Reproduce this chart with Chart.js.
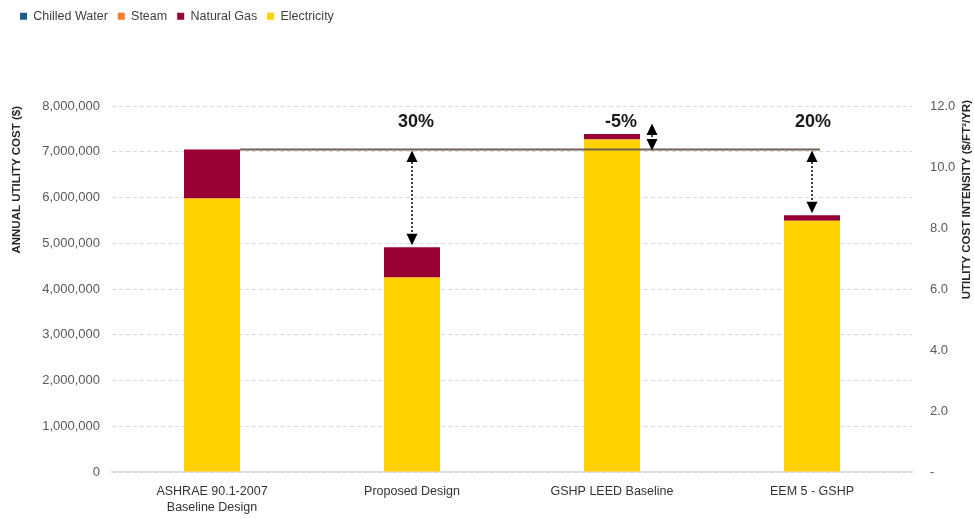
<!DOCTYPE html>
<html>
<head>
<meta charset="utf-8">
<title>Annual Utility Cost</title>
<script src="https://cdn.jsdelivr.net/npm/chart.js@4.4.1/dist/chart.umd.min.js"></script>
<style>
  html, body { margin: 0; padding: 0; background: #ffffff; }
  #wrap { width: 974px; height: 519px; position: relative; }
</style>
</head>
<body>
<div id="wrap"><canvas id="chart"></canvas></div>
<script>
// Design cases compared
const categories = [
  ['ASHRAE 90.1-2007', 'Baseline Design'],
  'Proposed Design',
  'GSHP LEED Baseline',
  'EEM 5 - GSHP'
];

// Annual utility cost by source ($)
const electricity  = [5980000, 4250000, 7270000, 5490000];
const naturalGas   = [1070000,  660000,  120000,  120000];
const steam        = [0, 0, 0, 0];
const chilledWater = [0, 0, 0, 0];

// Savings relative to the ASHRAE baseline
const savingsLabels = ['', '30%', '-5%', '20%'];

// Axis ranges
const costAxisMax = 8000000;
const costAxisStep = 1000000;
const intensityAxisMax = 12;
const intensityAxisStep = 2;

const FONT = '"Liberation Sans", Arial, Helvetica, sans-serif';

const totals = electricity.map((v, i) => v + naturalGas[i] + steam[i] + chilledWater[i]);

// Baseline reference line, dotted difference arrows and savings labels
const savingsMarkers = {
  id: 'savingsMarkers',
  afterDatasetsDraw(chart, args, opts) {
    const { ctx } = chart;
    const yScale = chart.scales.y;
    const bars = chart.getDatasetMeta(0).data;
    const base = opts.baseIndex;
    const lineY = yScale.getPixelForValue(totals[base]);
    const b0 = bars[base];
    const last = bars[bars.length - 1];
    const head = 11.5, hw = 5.5;

    ctx.save();
    ctx.strokeStyle = opts.lineColor;
    ctx.lineWidth = 2;
    ctx.beginPath();
    ctx.moveTo(b0.x + b0.width / 2, lineY);
    ctx.lineTo(last.x + opts.lineOverhang, lineY);
    ctx.stroke();

    bars.forEach((bar, i) => {
      if (i === base) return;
      const topY = yScale.getPixelForValue(totals[i]);
      let x, yA, yB;
      if (topY < lineY) {
        x = bar.x + bar.width / 2 + 12;
        yA = topY;
        yB = lineY + 1;
      } else {
        x = bar.x;
        yA = lineY + 1;
        yB = topY - 2;
      }
      const minSpan = 2 * head + 4;
      if (yB - yA < minSpan) yA = yB - minSpan;

      ctx.strokeStyle = '#000000';
      ctx.fillStyle = '#000000';
      ctx.lineWidth = 1.5;
      ctx.setLineDash([2, 2]);
      ctx.beginPath();
      ctx.moveTo(x, yA + head);
      ctx.lineTo(x, yB - head);
      ctx.stroke();
      ctx.setLineDash([]);

      ctx.beginPath();
      ctx.moveTo(x, yA);
      ctx.lineTo(x - hw, yA + head);
      ctx.lineTo(x + hw, yA + head);
      ctx.closePath();
      ctx.fill();

      ctx.beginPath();
      ctx.moveTo(x, yB);
      ctx.lineTo(x - hw, yB - head);
      ctx.lineTo(x + hw, yB - head);
      ctx.closePath();
      ctx.fill();

      ctx.font = 'bold 18px ' + FONT;
      ctx.fillStyle = '#1a1a1a';
      ctx.textAlign = 'center';
      ctx.textBaseline = 'middle';
      ctx.fillText(savingsLabels[i], bar.x + opts.labelNudge[i], lineY - 27);
    });
    ctx.restore();
  }
};

// Right axis title, reading bottom to top like the left one
const rightAxisTitle = {
  id: 'rightAxisTitle',
  afterDraw(chart, args, opts) {
    const { ctx } = chart;
    const area = chart.chartArea;
    ctx.save();
    ctx.translate(opts.x, area.top - 6);
    ctx.rotate(-Math.PI / 2);
    ctx.font = 'bold 11.5px ' + FONT;
    ctx.fillStyle = '#262626';
    ctx.textAlign = 'right';
    ctx.textBaseline = 'middle';
    ctx.fillText(opts.text, 0, 0);
    ctx.restore();
  }
};

new Chart(document.getElementById('chart'), {
  type: 'bar',
  data: {
    labels: categories,
    datasets: [
      { label: 'Electricity',   data: electricity,  backgroundColor: '#FFD100', yAxisID: 'y' },
      { label: 'Natural Gas',   data: naturalGas,   backgroundColor: '#990033', yAxisID: 'y' },
      { label: 'Steam',         data: steam,        backgroundColor: '#F47C2A', yAxisID: 'y' },
      { label: 'Chilled Water', data: chilledWater, backgroundColor: '#1A5F8C', yAxisID: 'y' }
    ]
  },
  options: {
    responsive: true,
    maintainAspectRatio: false,
    animation: false,
    devicePixelRatio: 1,
    layout: { padding: { left: 10, right: 0, top: 0, bottom: 0 } },
    datasets: {
      bar: { barPercentage: 0.28, categoryPercentage: 1, borderWidth: 0 }
    },
    plugins: {
      legend: {
        position: 'top',
        align: 'start',
        reverse: true,
        labels: {
          boxWidth: 7,
          boxHeight: 7,
          padding: 10,
          color: '#404040',
          font: { family: FONT, size: 12.5 }
        }
      },
      title: {
        display: true,
        text: '',
        weight: 500,
        padding: { top: 0, bottom: 59.1 },
        font: { size: 12 }
      },
      tooltip: { enabled: false },
      savingsMarkers: { baseIndex: 0, lineColor: '#6f604e', lineOverhang: 8, labelNudge: [0, 4, 9, 1] },
      rightAxisTitle: { x: 967, text: 'UTILITY COST INTENSITY ($/FT\u00B2/YR)' }
    },
    scales: {
      x: {
        stacked: true,
        grid: { display: false, drawTicks: false },
        border: { display: true, color: '#d9d9d9', width: 1.5 },
        ticks: {
          padding: 12,
          color: '#333333',
          maxRotation: 0,
          autoSkip: false,
          font: { family: FONT, size: 12.5, lineHeight: 1.28 }
        },
        afterFit(scale) { scale.height = 47; }
      },
      y: {
        stacked: true,
        position: 'left',
        min: 0,
        max: costAxisMax,
        grid: { color: '#d9d9d9', lineWidth: 1, drawTicks: false },
        border: { display: false, dash: [4, 3] },
        ticks: {
          stepSize: costAxisStep,
          padding: 12,
          color: '#595959',
          font: { family: FONT, size: 13 },
          callback: (v) => Number(v).toLocaleString('en-US')
        },
        title: {
          display: true,
          text: 'ANNUAL UTILITY COST ($)',
          align: 'end',
          color: '#262626',
          padding: { top: 0, bottom: 0 },
          font: { family: FONT, size: 11.5, weight: 'bold' }
        },
        afterFit(scale) { scale.width = 102; }
      },
      y2: {
        position: 'right',
        min: 0,
        max: intensityAxisMax,
        grid: { display: false, drawTicks: false },
        border: { display: false },
        ticks: {
          stepSize: intensityAxisStep,
          padding: 18,
          color: '#595959',
          font: { family: FONT, size: 13 },
          callback: (v) => (v === 0 ? '-' : Number(v).toFixed(1))
        },
        afterFit(scale) { scale.width = 62; }
      }
    }
  },
  plugins: [savingsMarkers, rightAxisTitle]
});
</script>
</body>
</html>
